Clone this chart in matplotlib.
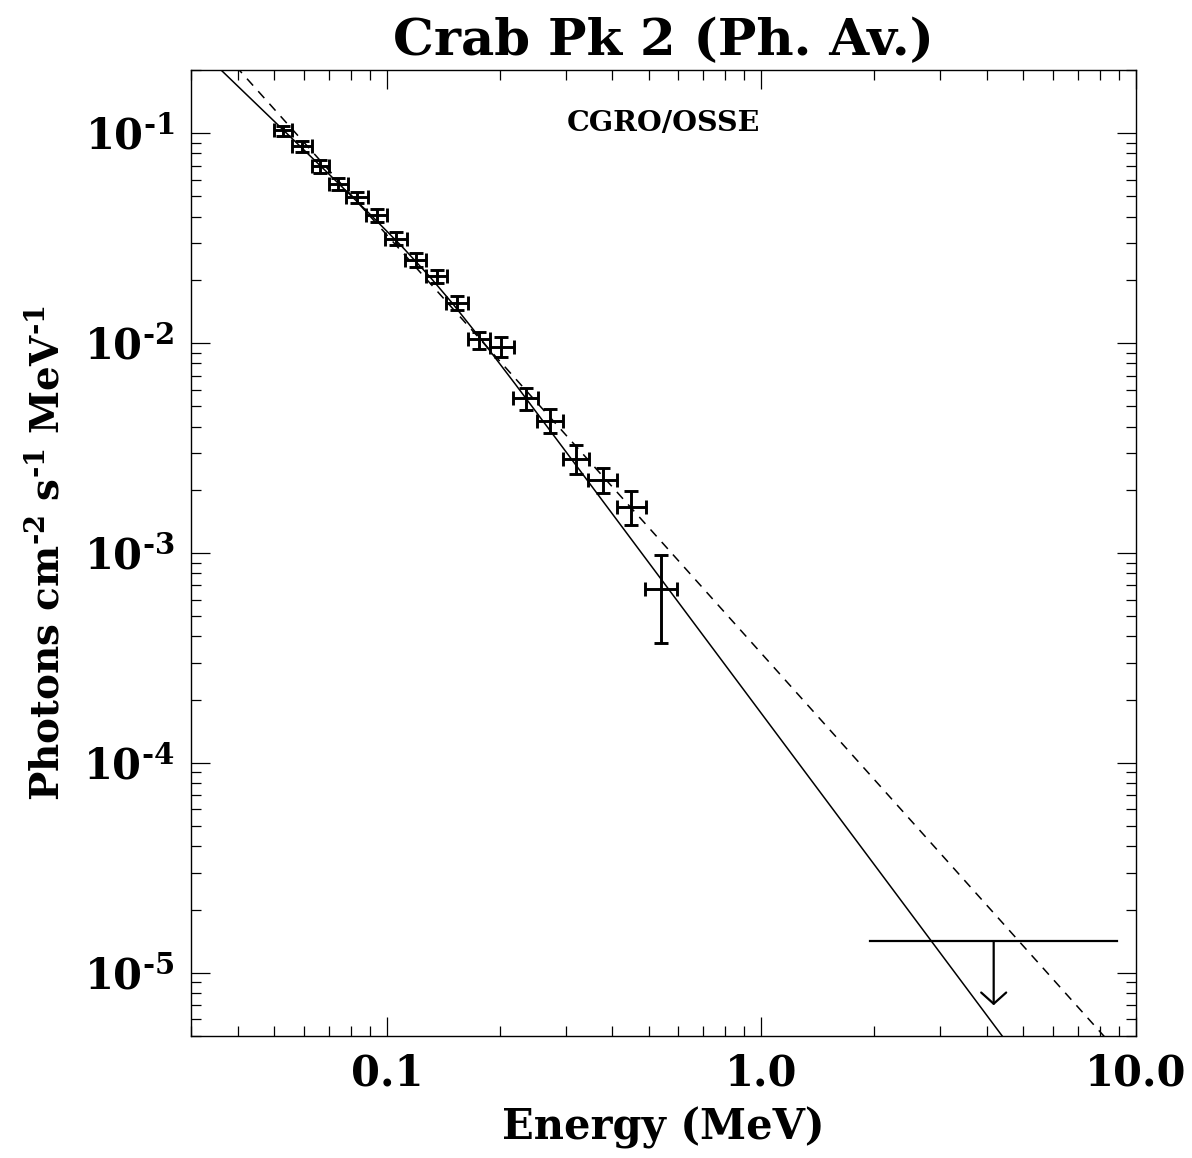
import matplotlib
matplotlib.use("Agg")
import matplotlib.pyplot as plt
from matplotlib.ticker import FixedLocator, FixedFormatter, LogLocator, NullFormatter
import numpy as np

plt.rcParams['font.family'] = ['DejaVu Serif']
plt.rcParams['font.weight'] = 'bold'
plt.rcParams['mathtext.default'] = 'regular'

# OSSE spectral points (energy bin, flux and flux errors)
energy = [0.0528, 0.0593, 0.0665, 0.0743, 0.0834, 0.0939, 0.1057, 0.1195, 0.1358,
          0.154, 0.176, 0.202, 0.2346, 0.2735, 0.3197, 0.3767, 0.449, 0.5395]
energyLo = [0.050, 0.056, 0.063, 0.070, 0.078, 0.088, 0.099, 0.112, 0.127,
            0.144, 0.165, 0.188, 0.2175, 0.2525, 0.295, 0.345, 0.411, 0.4895]
energyHi = [0.056, 0.063, 0.070, 0.079, 0.089, 0.100, 0.113, 0.127, 0.145,
            0.165, 0.189, 0.218, 0.253, 0.2955, 0.346, 0.412, 0.493, 0.5945]
flux = [0.103, 0.0865, 0.0695, 0.0575, 0.0497, 0.0406, 0.0314, 0.0249, 0.0209,
        0.0155, 0.0104, 0.0096, 0.00546, 0.00427, 0.00279, 0.00223, 0.00166, 0.000675]
fluxLo = [0.0965, 0.081, 0.0646, 0.0534, 0.0465, 0.0378, 0.0293, 0.023, 0.0194,
          0.0143, 0.0094, 0.0086, 0.00481, 0.00374, 0.00239, 0.00194, 0.00136, 0.000373]
fluxHi = [0.1083, 0.0913, 0.0742, 0.0614, 0.0524, 0.0437, 0.0339, 0.0269, 0.0223,
          0.0168, 0.0113, 0.0107, 0.00608, 0.00484, 0.00325, 0.00255, 0.00198, 0.00098]

# upper limit (COMPTEL-range bin)
ulEnergyLo, ulEnergyHi, ulEnergy = 1.95, 8.9, 4.17
ulFlux, ulArrowEnd = 1.41e-5, 7.0e-6

# model curves
solidE = [0.03, 0.05, 0.07, 0.09, 0.11, 0.13, 0.15, 0.18, 0.22, 0.3, 0.5, 1.0, 2.0, 5.0]
solidF = [0.2747, 0.1141, 0.0639, 0.04124, 0.02871, 0.02078, 0.01539, 0.01022,
          0.006389, 0.003053, 9.01e-4, 1.719e-4, 3.28e-5, 3.67e-6]
dashedE = [0.03, 10.0]
dashedF = [0.361, 3.37e-6]

HY = '\u2010'  # short hyphen for exponents, as in the original
yTickLabels = [f'10$^{{{HY}{k}}}$' for k in (5, 4, 3, 2, 1)]

fig = plt.figure(figsize=(11.92, 11.58), dpi=100)
ax = fig.add_axes([0.1602, 0.1054, 0.7928, 0.8342])
ax.set_xscale('log')
ax.set_yscale('log')
ax.set_xlim(0.03, 10.0)
ax.set_ylim(5e-6, 0.2)

ax.plot(solidE, solidF, color='black', lw=1.1)
ax.plot(dashedE, dashedF, color='black', lw=1.1, ls=(0, (6, 5)))

e = np.array(energy)
f = np.array(flux)
xerr = [e - np.array(energyLo), np.array(energyHi) - e]
yerr = [f - np.array(fluxLo), np.array(fluxHi) - f]
ax.errorbar(e, f, xerr=xerr, yerr=yerr, fmt='none', ecolor='black', elinewidth=2.1,
            capsize=5, capthick=2.1)

ax.plot([ulEnergyLo, ulEnergyHi], [ulFlux, ulFlux], color='black', lw=1.6)
ax.annotate('', xy=(ulEnergy, ulArrowEnd), xytext=(ulEnergy, ulFlux),
            arrowprops=dict(arrowstyle='->,head_length=0.45,head_width=0.5', lw=1.6,
                            color='black', shrinkA=0, shrinkB=0, mutation_scale=18))

ax.xaxis.set_major_locator(FixedLocator([0.1, 1.0, 10.0]))
ax.xaxis.set_major_formatter(FixedFormatter(['0.1', '1.0', '10.0']))
ax.xaxis.set_minor_locator(LogLocator(base=10, subs=np.arange(2, 10), numticks=20))
ax.xaxis.set_minor_formatter(NullFormatter())
ax.yaxis.set_major_locator(FixedLocator([1e-5, 1e-4, 1e-3, 1e-2, 1e-1]))
ax.yaxis.set_major_formatter(FixedFormatter(yTickLabels))
ax.yaxis.set_minor_locator(LogLocator(base=10, subs=np.arange(2, 10), numticks=20))
ax.yaxis.set_minor_formatter(NullFormatter())

ax.tick_params(which='both', direction='in', top=True, right=True, width=0.9, colors='black')
ax.tick_params(which='major', length=14, labelsize=30, pad=12)
ax.tick_params(which='minor', length=7)
for sp in ax.spines.values():
    sp.set_linewidth(1.0)

ax.set_xlabel('Energy (MeV)', fontsize=30, fontweight='bold', labelpad=9)
ax.set_ylabel(f'Photons cm$^{{{HY}2}}$ s$^{{{HY}1}}$ MeV$^{{{HY}1}}$', fontsize=28,
              fontweight='bold', labelpad=12)
ax.set_title('Crab Pk 2 (Ph. Av.)', fontsize=37, fontweight='bold', pad=11)
ax.text(0.5, 0.945, 'CGRO/OSSE', transform=ax.transAxes, ha='center', va='center',
        fontsize=20.5, fontweight='bold')

fig.savefig('out.png', dpi=100)
